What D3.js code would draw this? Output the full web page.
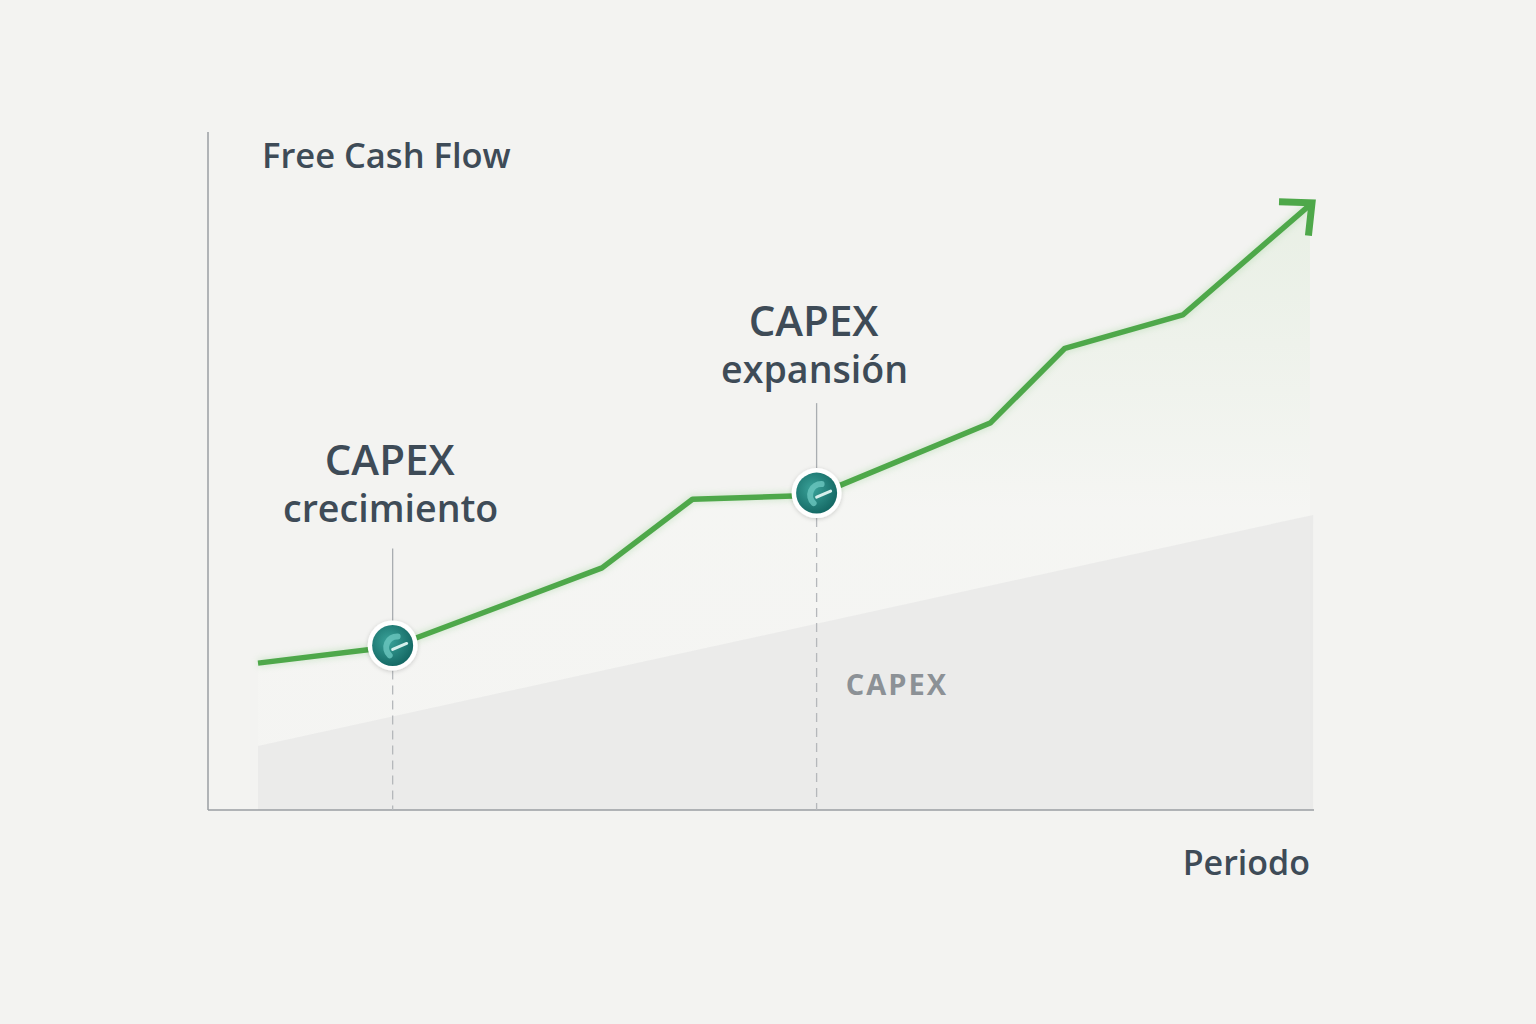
<!DOCTYPE html>
<html><head><meta charset="utf-8">
<script src="https://cdn.jsdelivr.net/npm/d3@7"></script>
<style>
html,body{margin:0;padding:0;background:#f3f3f1;}
svg{display:block;}
text{font-family:"Open Sans","Noto Sans",sans-serif;}
</style></head>
<body>
<svg id="chart" width="1536" height="1024"></svg>
<script>
// Data (period positions on a 0-100 scale, values on a 0-100 scale)
const fcfPeriods = [0, 12.8, 32.7, 41.3, 53.1, 69.6, 76.7, 87.9, 100];
const fcfValues  = [21.6, 24.0, 35.6, 45.7, 46.3, 56.9, 67.9, 72.8, 89.0];
const capexPeriods = [0, 100.3];
const capexValues  = [9.4, 43.4];
const events = [
  {period: 12.8, value: 24.2, line1: "CAPEX", line2: "crecimiento"},
  {period: 53.1, value: 46.6, line1: "CAPEX", line2: "expansión"}
];
const yTitle = "Free Cash Flow";
const xTitle = "Periodo";
const areaLabel = "CAPEX";

// layout only: leader length above marker, and label distance above leader top
const leaderLengths = [97, 90];
const labelGaps = [73, 67];

const svg = d3.select("#chart");
const x = d3.scaleLinear().domain([0, 100]).range([258, 1310]);
const y = d3.scaleLinear().domain([0, 100]).range([810, 130]);

const defs = svg.append("defs");
const gGreen = defs.append("linearGradient").attr("id","gGreen").attr("x1",0).attr("y1",0).attr("x2",0).attr("y2",1);
gGreen.append("stop").attr("offset","0%").attr("stop-color","#dcebd6").attr("stop-opacity",0.45);
gGreen.append("stop").attr("offset","50%").attr("stop-color","#f7f8f5").attr("stop-opacity",0.5);
gGreen.append("stop").attr("offset","100%").attr("stop-color","#f7f7f5").attr("stop-opacity",0.3);
const gMark = defs.append("radialGradient").attr("id","gMark").attr("cx","40%").attr("cy","40%").attr("r","65%");
gMark.append("stop").attr("offset","0%").attr("stop-color","#3aa39a");
gMark.append("stop").attr("offset","100%").attr("stop-color","#136662");
const shadow = defs.append("filter").attr("id","shadow").attr("x","-50%").attr("y","-50%").attr("width","200%").attr("height","200%");
shadow.append("feDropShadow").attr("dx",0).attr("dy",1).attr("stdDeviation",2).attr("flood-color","#000").attr("flood-opacity",0.18);
const glow = defs.append("filter").attr("id","glow").attr("x","-10%").attr("y","-10%").attr("width","120%").attr("height","120%");
glow.append("feGaussianBlur").attr("stdDeviation",3);

const fcfData = fcfPeriods.map((p,i)=>({p, v: fcfValues[i]}));
const capexData = capexPeriods.map((p,i)=>({p, v: capexValues[i]}));

// faint tint under FCF line
svg.append("path").datum(fcfData)
  .attr("d", d3.area().x(d=>x(d.p)).y0(y(0)).y1(d=>y(d.v)))
  .attr("fill","url(#gGreen)");

// CAPEX area
svg.append("path").datum(capexData)
  .attr("d", d3.area().x(d=>x(d.p)).y0(y(0)).y1(d=>y(d.v)))
  .attr("fill","#e4e5e5").attr("opacity",0.6);

// axes
svg.append("line").attr("x1",208).attr("x2",208).attr("y1",132).attr("y2",y(0))
  .attr("stroke","#9a9ea2").attr("stroke-width",1.5);
svg.append("line").attr("x1",208).attr("x2",1314).attr("y1",y(0)).attr("y2",y(0))
  .attr("stroke","#9a9ea2").attr("stroke-width",1.5);

// event guide lines
events.forEach((e,i)=>{
  const cx = x(e.period), cy = y(e.value);
  svg.append("line").attr("x1",cx).attr("x2",cx).attr("y1",cy+25).attr("y2",y(0))
    .attr("stroke","#b5b8bb").attr("stroke-width",1.3).attr("stroke-dasharray","9,6");
  svg.append("line").attr("x1",cx).attr("x2",cx).attr("y1",cy-leaderLengths[i]).attr("y2",cy-24)
    .attr("stroke","#a9adb1").attr("stroke-width",1.3);
});

// FCF line glow + line
const line = d3.line().x(d=>x(d.p)).y(d=>y(d.v));
svg.append("path").datum(fcfData).attr("d",line).attr("fill","none")
  .attr("stroke","#9fd39a").attr("stroke-width",9).attr("opacity",0.35).attr("filter","url(#glow)");
svg.append("path").datum(fcfData).attr("d",line).attr("fill","none")
  .attr("stroke","#4ea84a").attr("stroke-width",5.5).attr("stroke-linejoin","round");

// arrow head
const n = fcfData.length;
const tip = [x(fcfData[n-1].p)+2, y(fcfData[n-1].v)-2];
const prev = [x(fcfData[n-2].p), y(fcfData[n-2].v)];
const ang = Math.atan2(tip[1]-prev[1], tip[0]-prev[0]);
const L = 33, spread = Math.PI/4.2;
const a1 = [tip[0]-L*Math.cos(ang-spread), tip[1]-L*Math.sin(ang-spread)];
const a2 = [tip[0]-L*Math.cos(ang+spread), tip[1]-L*Math.sin(ang+spread)];
svg.append("path").attr("d", d3.line()([a1, tip, a2])).attr("fill","none")
  .attr("stroke","#4ea84a").attr("stroke-width",7).attr("stroke-linejoin","miter").attr("stroke-linecap","butt");

// markers
events.forEach((e,i)=>{
  const cx = x(e.period), cy = y(e.value);
  const g = svg.append("g").attr("transform",`translate(${cx},${cy})`);
  g.append("circle").attr("r",25).attr("fill","#ffffff").attr("filter","url(#shadow)");
  g.append("circle").attr("r",20.5).attr("fill","url(#gMark)");
  g.append("path").attr("d","M -3 10 A 11 11 0 0 1 5 -9").attr("fill","none")
    .attr("stroke","#6cc7bf").attr("stroke-width",6).attr("stroke-linecap","round").attr("opacity",0.8);
  g.append("line").attr("x1",0).attr("y1",4).attr("x2",14).attr("y2",-2)
    .attr("stroke","#d6efec").attr("stroke-width",3).attr("stroke-linecap","round");
  // labels
  const top = cy - leaderLengths[i];
  svg.append("text").attr("x",cx-3).attr("y",top-labelGaps[i]).attr("text-anchor","middle")
    .attr("font-size",42).attr("font-weight",600).attr("fill","#3e4b57").text(e.line1);
  svg.append("text").attr("x",cx-2).attr("y",top-labelGaps[i]+47).attr("text-anchor","middle")
    .attr("font-size",37.6).attr("font-weight",600).attr("fill","#3e4b57").text(e.line2);
});

// titles
svg.append("text").attr("x",262).attr("y",168).attr("font-size",34.5).attr("font-weight",600)
  .attr("fill","#3e4b57").text(yTitle);
svg.append("text").attr("x",1310).attr("y",875).attr("text-anchor","end").attr("font-size",34).attr("font-weight",600)
  .attr("fill","#3e4b57").text(xTitle);
svg.append("text").attr("x",897).attr("y",695).attr("text-anchor","middle").attr("font-size",29).attr("font-weight",700)
  .attr("letter-spacing",2).attr("fill","#8c9196").text(areaLabel);
</script>
</body></html>
